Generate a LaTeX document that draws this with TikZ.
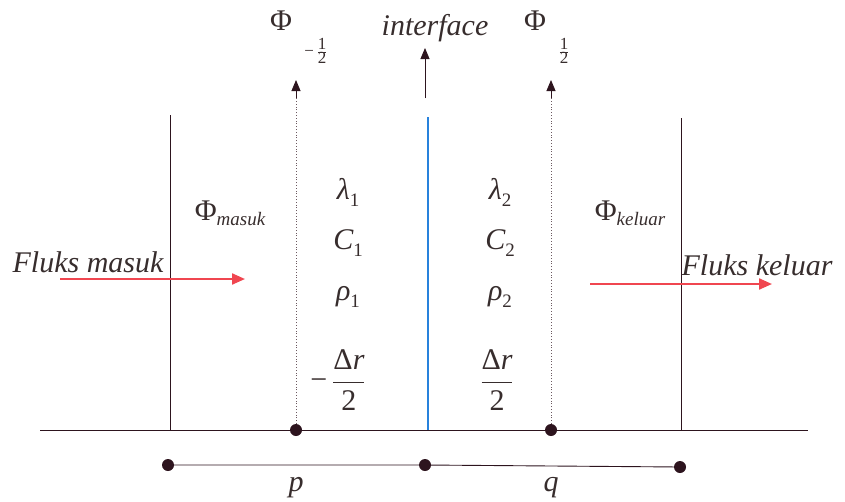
\documentclass[tikz,border=0pt]{standalone}
\usepackage{fix-cm}
\usepackage{fontspec}
\setmainfont{Liberation Serif}
\usetikzlibrary{arrows.meta}
\definecolor{inkline}{RGB}{45,20,30}
\definecolor{inktext}{RGB}{55,45,45}
\definecolor{faceblue}{RGB}{40,130,220}
\definecolor{fluxred}{RGB}{240,70,80}
% symbol with a lowered small index
\newcommand{\lowidx}[3][7pt]{{#2}\raisebox{-#1}{\fontsize{19}{22}\selectfont #3}}
\newcommand{\halfcell}[1]{$#1\displaystyle\frac{\mbox{Δ\itshape r}}{\mbox{2}}$}
\tikzset{
  big/.style={text=inktext,font=\fontsize{30}{36}\selectfont,inner sep=0pt},
  sub/.style={text=inktext,font=\fontsize{17}{20}\selectfont,inner sep=0pt},
  wall/.style={draw=inkline,line width=0.9pt},
  grid line/.style={draw=inkline!70,dotted,line width=0.8pt},
  uptip/.style={-{Triangle[width=9pt,length=11pt]}},
  flux/.style={draw=fluxred,line width=2.2pt,-{Triangle[width=11pt,length=13pt]}},
  dot/.style={fill=inkline,circle,inner sep=0pt,minimum size=12pt}
}
\begin{document}
\begin{tikzpicture}[x=1pt,y=-1pt]
  \useasboundingbox (0,0) rectangle (845,501);
  % base line and the two outer walls
  \coordinate (bl) at (40,430);
  \coordinate (br) at (808,430);
  \draw[wall] (bl) -- (br);
  \coordinate (wlt) at (170,115);
  \coordinate (wlb) at (170,430);
  \coordinate (wrt) at (681,118);
  \coordinate (wrb) at (681,430);
  \draw[wall] (wlt) -- (wlb);
  \draw[wall] (wrt) -- (wrb);
  % interface
  \coordinate (ift) at (428,117);
  \coordinate (ifb) at (428,430);
  \draw[draw=faceblue,line width=2.2pt] (ift) -- (ifb);
  \coordinate (iat) at (425,48);
  \coordinate (iab) at (425,98);
  \draw[wall,uptip,fill=inkline] (iab) -- (iat);
  \node[big,font=\fontsize{30}{36}\selectfont\itshape] (iface) at (435,28) {interface};
  % half-cell faces
  \node[dot] (pm) at (296,430) {};
  \node[dot] (pp) at (551,430) {};
  \coordinate (pmt) at (296,80);
  \coordinate (ppt) at (551,80);
  \coordinate (pmb) at (296,98);
  \coordinate (ppb) at (551,98);
  \draw[grid line] (pm) -- (pmb);
  \draw[grid line] (pp) -- (ppb);
  \draw[wall,uptip,fill=inkline] (pmb) -- (pmt);
  \draw[wall,uptip,fill=inkline] (ppb) -- (ppt);
  \node[big] (phim) at (281,21) {Φ};
  \node[sub] (phimsub) at (316,51) {$\mbox{−\,}\frac{\mbox{1}}{\mbox{2}}$};
  \node[big] (phip) at (535,21) {Φ};
  \node[sub] (phipsub) at (564,51) {$\frac{\mbox{1}}{\mbox{2}}$};
  % fluxes
  \node[big] (phin) at (230,213) {\lowidx[5pt]{Φ}{\itshape masuk}};
  \node[big] (phiout) at (630,213) {\lowidx[5pt]{Φ}{\itshape keluar}};
  \node[big,font=\fontsize{30}{36}\selectfont\itshape] (fin) at (88,262) {Fluks masuk};
  \node[big,font=\fontsize{30}{36}\selectfont\itshape] (fout) at (757,265) {Fluks keluar};
  \coordinate (fins) at (60,279);
  \coordinate (fine) at (245,279);
  \coordinate (fouts) at (590,284);
  \coordinate (foute) at (772,284);
  \draw[flux] (fins) -- (fine);
  \draw[flux] (fouts) -- (foute);
  % material properties
  \node[big] (lam1) at (348,192) {\lowidx{\itshape λ}{1}};
  \node[big] (c1) at (348,243) {\lowidx{\itshape C}{1}};
  \node[big] (rho1) at (348,297) {\lowidx{\itshape ρ}{1}};
  \node[big] (dr1) at (338,380) {\halfcell{\mbox{−\,}}};
  \node[big] (lam2) at (500,192) {\lowidx{\itshape λ}{2}};
  \node[big] (c2) at (500,243) {\lowidx{\itshape C}{2}};
  \node[big] (rho2) at (500,297) {\lowidx{\itshape ρ}{2}};
  \node[big] (dr2) at (497,380) {\halfcell{}};
  % nodes p and q
  \node[dot] (np) at (168,465) {};
  \node[dot] (nm) at (425,465) {};
  \node[dot] (nq) at (680,467) {};
  \draw[wall] (np) -- (nm) -- (nq);
  \node[big,font=\fontsize{30}{36}\selectfont\itshape] (lp) at (296,488) {p};
  \node[big,font=\fontsize{30}{36}\selectfont\itshape] (lq) at (551,488) {q};
\end{tikzpicture}
\end{document}
